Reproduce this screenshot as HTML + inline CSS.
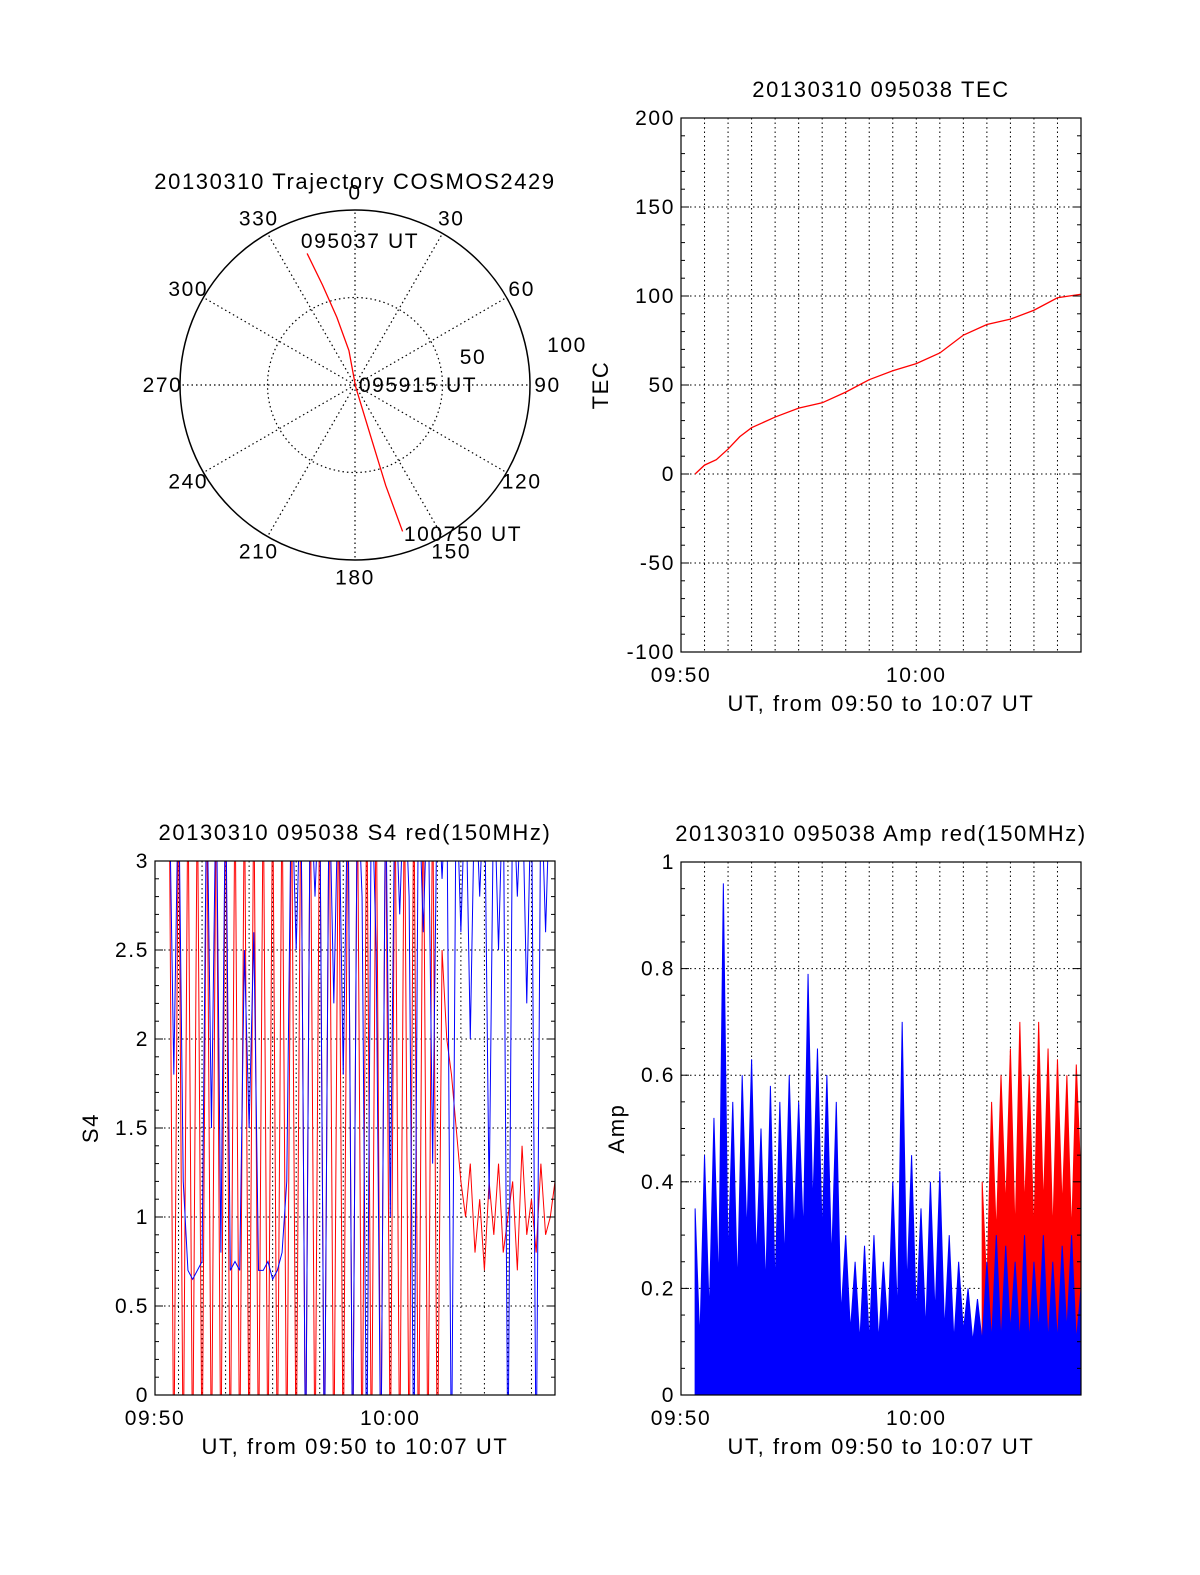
<!DOCTYPE html>
<html><head><meta charset="utf-8">
<style>
html,body{margin:0;padding:0;background:#fff;}
svg{display:block;font-family:"Liberation Sans","DejaVu Sans",sans-serif;}
text{letter-spacing:1.6px;}
</style></head>
<body>
<svg id="fig" width="1200" height="1575" viewBox="0 0 1200 1575" xmlns="http://www.w3.org/2000/svg">
<rect width="1200" height="1575" fill="#fff"/>
<g id="polar"></g>
<g id="tec"></g>
<g id="s4"></g>
<g id="amp"></g>
</svg>
<script>
// ---------- data ----------
const polarAngles = [0,30,60,90,120,150,180,210,240,270,300,330];
const trajAz = [340,342,345,350,160,163,163,162];
const trajR = [80,60,40,20,1,30,60,88];
const tecTime = [0.6,1.0,1.5,2.0,2.5,3.0,4.0,5.0,6.0,7.0,8.0,9.0,10.0,11.0,12.0,13.0,14.0,15.0,16.0,17.0];
const tecVals = [0,5,8,14,21,26,32,37,40,46,53,58,62,68,78,84,87,92,99,101];
const tecTicks = [-100,-50,0,50,100,150,200];
const s4Ticks = [0,0.5,1,1.5,2,2.5,3];
const s4TickLabels = ["0","0.5","1","1.5","2","2.5","3"];
const ampTicks = [0,0.2,0.4,0.6,0.8,1];
const ampTickLabels = ["0","0.2","0.4","0.6","0.8","1"];
const xTickVals = [0,10];
const xTickLabels = ["09:50","10:00"];
const seriesStart = 0.6, seriesStep = 0.2;
const s4Blue = [3.5,1.8,3.5,1.2, 0.7,0.65,0.7,0.75, 3.5,1.5,3.5,0.8,3.5, 0.7,0.75,0.7, 2.5,1.5,2.6,0.7,0.7, 0.75,0.65,0.7,0.8,1.2,3.5,
 2.5,3.5,-0.5,3.5,2.8,3.5,-0.5,3.5,2.2,3.5,1.8,
 3.5,-0.5,3.5,2.8,-0.5,3.5,2.5,-0.5,3.5,1.0,3.5,2.7,
 3.5,2.8,-0.5,3.5,2.6,3.5,1.3,3.5,2.9,3.5,-0.5,3.5,2.6,3.5,2.0,3.5,2.8,3.5,1.1,3.5,2.5,3.5,-0.5,3.5,2.8,3.5,2.2,3.5,-0.5,3.5,2.6,3.5,3.5];
const s4Red = [3.5,-0.5,3.5,-0.5,3.5,-0.5,3.5,-0.5,3.5,-0.5,3.5,-0.5,3.5,-0.5,3.5,-0.5,3.5,-0.5,3.5,-0.5,
 3.5,-0.5,3.5,-0.5,3.5,-0.5,3.5,-0.5,3.5,-0.5,3.5,-0.5,3.5,-0.5,3.5,-0.5,3.5,-0.5,3.5,-0.5,
 3.5,-0.5,3.5,-0.5,3.5,-0.5,3.5,-0.5,3.5,-0.5,3.5,-0.5,3.5,-0.5,3.5,-0.5,3.5,-0.5,
 2.5,2.0,1.8,1.5,1.2,1.0,1.3,0.8,1.1,0.7,1.2,0.9,1.3,0.8,1.0,1.2,0.7,1.4,0.9,1.1,0.8,1.3,0.9,1.0,1.2];
const ampBlue = [0.35,0.1,0.45,0.15,0.52,0.2,0.96,0.25,0.55,0.2,0.6,0.3,0.63,0.25,0.5,0.2,0.58,0.2,0.55,0.25,0.6,0.3,0.55,0.3,0.79,0.35,0.65,0.3,0.6,0.25,0.55,0.15,0.3,0.12,0.25,0.1,0.28,0.1,0.3,0.1,0.25,0.12,0.4,0.15,0.7,0.2,0.45,0.15,0.35,0.12,0.4,0.15,0.42,0.12,0.3,0.1,0.25,0.12,0.2,0.1,0.18,0.1,0.25,0.1,0.3,0.1,0.28,0.12,0.25,0.1,0.3,0.1,0.25,0.12,0.3,0.1,0.25,0.1,0.28,0.12,0.3,0.1,0.2];
const ampRedStart = 12.8;
const ampRed = [0.4,0.2,0.55,0.3,0.6,0.35,0.65,0.3,0.7,0.35,0.6,0.3,0.7,0.35,0.65,0.3,0.63,0.35,0.6,0.3,0.62,0.4];

// ---------- helpers ----------
const NS="http://www.w3.org/2000/svg";
function mk(parent,tag,attrs,text){const e=document.createElementNS(NS,tag);for(const k in attrs)e.setAttribute(k,attrs[k]);if(text!==undefined)e.textContent=text;parent.appendChild(e);return e;}

// ---------- polar ----------
(function(){
 const g=document.getElementById('polar');
 const cx=355,cy=385,R=175;
 const rp=r=>r/100*R;
 const pt=(az,r)=>[cx+Math.sin(az*Math.PI/180)*rp(r), cy-Math.cos(az*Math.PI/180)*rp(r)];
 let t=mk(g,'text',{x:355,y:189,'text-anchor':'middle','font-size':22},'20130310 Trajectory COSMOS2429');
 
 let c=mk(g,'circle',{cx,cy,r:R,fill:'none',stroke:'#000','stroke-width':1.5});
 
 c=mk(g,'circle',{cx,cy,r:rp(50),fill:'none',stroke:'#000','stroke-width':1.2,'stroke-dasharray':'1.5 3'});
 
 polarAngles.forEach(a=>{
  const p=pt(a,100);
  const l=mk(g,'line',{x1:cx,y1:cy,x2:p[0],y2:p[1],stroke:'#000','stroke-width':1.2,'stroke-dasharray':'1.5 3'});
  
  const q=pt(a,110);
  const tx=mk(g,'text',{x:q[0],y:q[1]+7,'text-anchor':'middle','font-size':21},String(a));
  
 });
 t=mk(g,'text',{x:473,y:364,'text-anchor':'middle','font-size':21},'50');
 
 t=mk(g,'text',{x:567,y:352,'text-anchor':'middle','font-size':21},'100');
 
 const pts=trajAz.map((a,i)=>pt(a,trajR[i]).join(',')).join(' ');
 const pl=mk(g,'polyline',{points:pts,fill:'none',stroke:'#f00','stroke-width':1.3});
 
 [['095037 UT',360,248],['095915 UT',418,392],['100750 UT',463,541]].forEach(d=>{
  const e=mk(g,'text',{x:d[1],y:d[2],'text-anchor':'middle','font-size':21},d[0]);
  
 });
})();

// ---------- generic axes ----------
function axes(g,o){
 const {x0,x1,y0,y1,ymin,ymax,yTicks,yLabels,minorY,title,ytitle,ytx}=o;
 const xs=t=>x0+t/17*(x1-x0);
 const ys=v=>y1-(v-ymin)/(ymax-ymin)*(y1-y0);
 for(let m=1;m<17;m++){
  const l=mk(g,'line',{x1:xs(m),x2:xs(m),y1:y0,y2:y1,stroke:'#000','stroke-width':1,'stroke-dasharray':'1.5 3'});
  
 }
 yTicks.forEach(v=>{
  if(v===ymin||v===ymax)return;
  const l=mk(g,'line',{x1:x0,x2:x1,y1:ys(v),y2:ys(v),stroke:'#000','stroke-width':1,'stroke-dasharray':'1.5 3'});
  
 });
 const data=mk(g,'g',{'clip-path':'url(#clip-'+o.id+')'});
 
 const cp=mk(document.getElementById('fig'),'clipPath',{id:'clip-'+o.id});
 mk(cp,'rect',{x:x0,y:y0,width:x1-x0,height:y1-y0});
 const fr=mk(g,'rect',{x:x0,y:y0,width:x1-x0,height:y1-y0,fill:'none',stroke:'#000','stroke-width':1.2});
 
 for(let v=ymin;v<=ymax+1e-9;v+=minorY){
  const len=yTicks.some(t=>Math.abs(t-v)<1e-9)?8:4;
  const a=mk(g,'line',{x1:x0,x2:x0+len,y1:ys(v),y2:ys(v),stroke:'#000'});
  
  const b=mk(g,'line',{x1:x1,x2:x1-len,y1:ys(v),y2:ys(v),stroke:'#000'});
  
 }
 yTicks.forEach((v,i)=>{
  const t=mk(g,'text',{x:x0-6,y:ys(v)+7,'text-anchor':'end','font-size':21},yLabels[i]);
  
 });
 xTickVals.forEach((v,i)=>{
  const t=mk(g,'text',{x:xs(v),y:y1+30,'text-anchor':'middle','font-size':21},xTickLabels[i]);
  
 });
 let t=mk(g,'text',{x:(x0+x1)/2,y:y1+59,'text-anchor':'middle','font-size':22},'UT, from 09:50 to 10:07 UT');
 
 t=mk(g,'text',{x:(x0+x1)/2,y:y0-21,'text-anchor':'middle','font-size':22},title);
 
 const ym=(y0+y1)/2;
 t=mk(g,'text',{x:ytx,y:ym,'text-anchor':'middle','font-size':22,transform:'rotate(-90 '+ytx+' '+ym+')'},ytitle);
 
 return {xs,ys,data};
}

// ---------- TEC ----------
(function(){
 const g=document.getElementById('tec');
 const A=axes(g,{id:'tec',x0:681,x1:1081,y0:118,y1:652,ymin:-100,ymax:200,yTicks:tecTicks,yLabels:tecTicks.map(String),minorY:10,title:'20130310 095038 TEC',ytitle:'TEC',ytx:608});
 const pts=tecTime.map((t,i)=>A.xs(t)+','+A.ys(tecVals[i])).join(' ');
 const l=mk(A.data,'polyline',{points:pts,fill:'none',stroke:'#f00','stroke-width':1.3});
 
})();

// ---------- S4 ----------
(function(){
 const g=document.getElementById('s4');
 const A=axes(g,{id:'s4',x0:155,x1:555,y0:861,y1:1395,ymin:0,ymax:3,yTicks:s4Ticks,yLabels:s4TickLabels,minorY:0.1,title:'20130310 095038 S4 red(150MHz)',ytitle:'S4',ytx:98});
 const r=mk(A.data,'polyline',{points:s4Red.map((v,i)=>A.xs(seriesStart+i*seriesStep)+','+A.ys(v)).join(' '),fill:'none',stroke:'#f00','stroke-width':1});
 
 const b=mk(A.data,'polyline',{points:s4Blue.map((v,i)=>A.xs(seriesStart+i*seriesStep)+','+A.ys(v)).join(' '),fill:'none',stroke:'#00f','stroke-width':1});
 
})();

// ---------- Amp ----------
(function(){
 const g=document.getElementById('amp');
 const A=axes(g,{id:'amp',x0:681,x1:1081,y0:862,y1:1395,ymin:0,ymax:1,yTicks:ampTicks,yLabels:ampTickLabels,minorY:0.05,title:'20130310 095038 Amp red(150MHz)',ytitle:'Amp',ytx:624});
 function area(vals,start,color,name){
  let d='M'+A.xs(start)+','+A.ys(0);
  vals.forEach((v,i)=>{d+=' L'+A.xs(start+i*seriesStep)+','+A.ys(v);});
  d+=' L'+A.xs(start+(vals.length-1)*seriesStep)+','+A.ys(0)+' Z';
  const p=mk(A.data,'path',{d,fill:color,stroke:color,'stroke-width':1});
  
 }
 area(ampRed,ampRedStart,'#f00','amp-red-series');
 area(ampBlue,seriesStart,'#00f','amp-blue-series');
})();
</script>
</body></html>
